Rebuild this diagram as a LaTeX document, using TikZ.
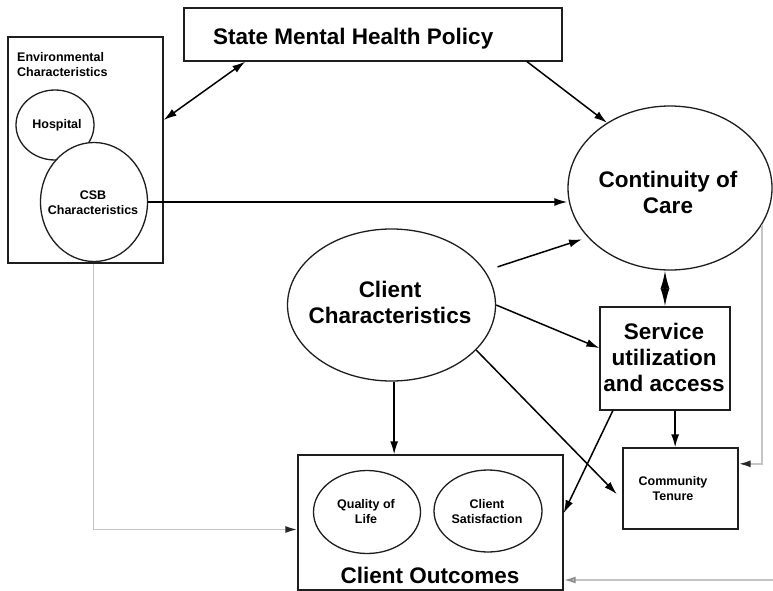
\documentclass[tikz,border=0pt]{standalone}
\usepackage{fontspec}
\setmainfont{Liberation Sans}
\usetikzlibrary{shapes.geometric,arrows.meta}
\definecolor{lgrey}{HTML}{C4C4C4}
\definecolor{dline}{HTML}{1E1E1E}
\begin{document}
\begin{tikzpicture}[x=1pt,y=-1pt,
  boxst/.style={draw=dline,line width=1.3pt,rectangle,inner sep=0pt,fill=white},
  ellst/.style={draw=dline,line width=1.3pt,ellipse,inner sep=0pt,fill=white},
  bigtxt/.style={font=\fontsize{22.5}{26}\selectfont\bfseries,align=center,inner sep=0pt},
  smalltxt/.style={font=\fontsize{12.5}{15}\selectfont\bfseries,align=center,inner sep=0pt},
  arr/.style={-{Latex[length=13pt,width=8pt]},line width=1.5pt,draw=black},
  garr/.style={line width=1.8pt,draw=lgrey},
  gtip/.style={-{Latex[length=12pt,width=7pt,color=black!85]}},
  gotip/.style={-{Latex[length=12pt,width=7pt,open,color=black!45]}},
]
\useasboundingbox (0,0) rectangle (773,591);
\fill[white] (0,0) rectangle (773,591);

% environmental box
\node[boxst,minimum width=155pt,minimum height=226pt] (env) at (85.5,150) {};
\node[smalltxt,align=left,anchor=west] (envt) at (17,65) {Environmental\\Characteristics};
\node[ellst,minimum width=78pt,minimum height=70pt] (hosp) at (55,125) {};
\node[smalltxt] (hospt) at (57,125) {Hospital};
\node[ellst,minimum width=107pt,minimum height=119pt] (csb) at (94,202) {};
\node[smalltxt] (csbt) at (93,203) {CSB\\Characteristics};

% state policy
\node[boxst,minimum width=378pt,minimum height=53pt] (smhp) at (373,34.5) {};
\node[bigtxt,anchor=base west] (smhpt) at (213,45) {State Mental Health Policy};

% continuity of care
\node[ellst,minimum width=204pt,minimum height=164pt] (coc) at (670,188) {};
\node[bigtxt] (coct) at (668,192) {Continuity of\\Care};

% client characteristics
\node[ellst,minimum width=208pt,minimum height=152pt] (cc) at (391.5,305) {};
\node[bigtxt] (cct) at (390,302) {Client\\Characteristics};

% service utilization
\node[boxst,minimum width=130pt,minimum height=103pt] (sua) at (665,358.5) {};
\node[bigtxt] (suat) at (664,357) {Service\\utilization\\and access};

% client outcomes
\node[boxst,minimum width=265pt,minimum height=135pt] (co) at (430.5,522.5) {};
\node[ellst,minimum width=107pt,minimum height=83pt] (qol) at (367,512) {};
\node[smalltxt] (qolt) at (366,511.5) {Quality of\\Life};
\node[ellst,minimum width=108pt,minimum height=82pt] (cs) at (488,511) {};
\node[smalltxt] (cst) at (487,511.5) {Client\\Satisfaction};
\node[bigtxt] (cot) at (430,575) {Client Outcomes};

% community tenure
\node[boxst,minimum width=115pt,minimum height=81pt] (ct) at (680.5,488.5) {};
\node[smalltxt] (ctt) at (673,489) {Community\\Tenure};

\coordinate (rb) at (773,580);

% grey connectors
\draw[garr,gtip] (env.-86.2) |- (co.183.7);
\draw[garr,gtip] (coc.-22) |- (ct.23.9);
\draw[garr,gotip] (rb) -- (rb -| co.east);

% black connectors
\draw[arr,{Latex[length=13pt,width=8pt]}-{Latex[length=13pt,width=8pt]}] (env.21.8) -- (smhp.192.9);
\draw[arr] (smhp.-10.4) -- (coc.134);
\draw[arr] (csb.east) -- (csb.east -| coc.west);
\draw[arr,shorten <=13pt,shorten >=6pt] (cc.20.2) -- (coc.211.5);
\draw[arr] (cc.east) -- (sua.171.7);
\draw[arr,shorten >=8pt] (cc.-28.1) -- (ct.191.3);
\draw[arr] (cc.-88) -- (cc.-88 |- co.north);
\draw[arr] (sua.225.8) -- (co.4.5);
\draw[arr] (sua.-79) -- (sua.-79 |- ct.north);
\draw[line width=1.5pt,{Latex[length=18pt,width=9pt]}-{Latex[length=18pt,width=9pt]}] (sua.north) -- (sua.north |- coc.south);
\end{tikzpicture}
\end{document}
